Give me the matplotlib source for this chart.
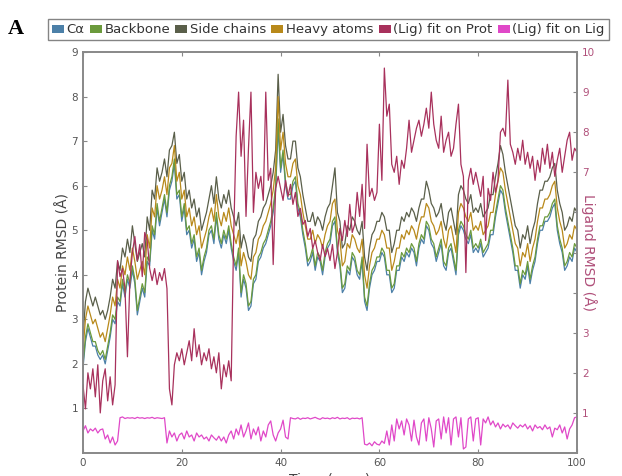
import numpy as np
import matplotlib
matplotlib.use("Agg")
import matplotlib.pyplot as plt
from matplotlib.patches import Patch

# tiempo en ns (paso de 0.5 ns)
time_ns = np.arange(0, 100.5, 0.5)

ca = [1.9, 2.5, 2.8, 2.6, 2.4, 2.4, 2.2, 2.1, 2.2, 2.0,
      2.3, 2.6, 3.0, 2.9, 3.4, 3.3, 3.8, 3.5, 3.9, 3.7,
      4.1, 3.8, 3.1, 3.4, 3.7, 3.5, 4.3, 4.2, 5.0, 4.8,
      5.5, 5.1, 5.4, 5.7, 5.3, 5.9, 6.1, 6.5, 5.7, 5.8,
      5.2, 5.5, 4.9, 5.0, 4.6, 4.8, 4.3, 4.5, 4.0, 4.3,
      4.5, 4.9, 5.0, 4.7, 5.3, 4.8, 4.6, 4.9, 4.7, 5.0,
      4.6, 4.3, 4.1, 4.5, 3.5, 3.9, 3.7, 3.2, 3.3, 3.8,
      3.9, 4.3, 4.4, 4.6, 4.7, 4.9, 5.1, 5.4, 5.9, 7.3,
      6.3, 6.7, 6.0, 5.7, 5.7, 6.0, 6.1, 5.5, 5.3, 4.9,
      4.6, 4.2, 4.3, 4.5, 4.1, 4.4, 4.3, 4.0, 4.4, 4.6,
      4.7, 5.1, 5.2, 4.5, 4.2, 3.6, 3.7, 4.1, 4.0, 4.4,
      4.3, 4.0, 3.9, 4.3, 3.4, 3.2, 3.7, 4.0, 4.1, 4.3,
      4.3, 4.5, 4.4, 4.0, 4.0, 3.6, 3.7, 4.1, 4.1, 4.4,
      4.3, 4.5, 4.4, 4.6, 4.5, 4.2, 4.6, 4.8, 4.7, 5.1,
      5.0, 4.7, 4.6, 4.3, 4.5, 4.7, 4.2, 4.1, 4.5, 4.6,
      4.3, 4.0, 4.9, 5.1, 5.0, 4.8, 4.7, 4.9, 4.5, 4.6,
      4.5, 4.7, 4.4, 4.5, 4.6, 4.9, 4.9, 5.3, 5.6, 5.9,
      5.8, 5.4, 5.1, 4.8, 4.5, 4.1, 4.1, 3.7, 4.0, 3.9,
      4.2, 3.8, 4.1, 4.3, 4.7, 5.0, 5.0, 5.2, 5.2, 5.3,
      5.5, 5.6, 5.0, 4.7, 4.5, 4.1, 4.2, 4.4, 4.3, 4.6,
      4.5]

backbone = [2.0, 2.6, 2.9, 2.7, 2.5, 2.5, 2.3, 2.2, 2.3, 2.1,
            2.4, 2.7, 3.1, 3.0, 3.5, 3.4, 3.9, 3.6, 4.0, 3.8,
            4.2, 3.9, 3.2, 3.5, 3.8, 3.6, 4.4, 4.3, 5.1, 4.9,
            5.6, 5.2, 5.5, 5.8, 5.4, 6.0, 6.2, 6.6, 5.8, 5.9,
            5.3, 5.6, 5.0, 5.1, 4.7, 4.9, 4.4, 4.6, 4.1, 4.4,
            4.6, 5.0, 5.1, 4.8, 5.4, 4.9, 4.7, 5.0, 4.8, 5.1,
            4.7, 4.4, 4.2, 4.6, 3.6, 4.0, 3.8, 3.3, 3.4, 3.9,
            4.0, 4.4, 4.5, 4.7, 4.8, 5.0, 5.2, 5.5, 6.0, 7.5,
            6.4, 6.8, 6.1, 5.8, 5.8, 6.1, 6.2, 5.6, 5.4, 5.0,
            4.7, 4.3, 4.4, 4.6, 4.2, 4.5, 4.4, 4.1, 4.5, 4.7,
            4.8, 5.2, 5.3, 4.6, 4.3, 3.7, 3.8, 4.2, 4.1, 4.5,
            4.4, 4.1, 4.0, 4.4, 3.5, 3.3, 3.8, 4.1, 4.2, 4.4,
            4.4, 4.6, 4.5, 4.1, 4.1, 3.7, 3.8, 4.2, 4.2, 4.5,
            4.4, 4.6, 4.5, 4.7, 4.6, 4.3, 4.7, 4.9, 4.8, 5.2,
            5.1, 4.8, 4.7, 4.4, 4.6, 4.8, 4.3, 4.2, 4.6, 4.7,
            4.4, 4.1, 5.0, 5.2, 5.1, 4.9, 4.8, 5.0, 4.6, 4.7,
            4.6, 4.8, 4.5, 4.6, 4.7, 5.0, 5.0, 5.4, 5.7, 6.0,
            5.9, 5.5, 5.2, 4.9, 4.6, 4.2, 4.2, 3.8, 4.1, 4.0,
            4.3, 3.9, 4.2, 4.4, 4.8, 5.1, 5.1, 5.3, 5.3, 5.4,
            5.6, 5.7, 5.1, 4.8, 4.6, 4.2, 4.3, 4.5, 4.4, 4.7,
            4.6]

side_chains = [2.6, 3.4, 3.7, 3.5, 3.3, 3.5, 3.3, 3.1, 3.2, 3.0,
               3.2, 3.5, 3.9, 3.7, 4.3, 4.1, 4.6, 4.4, 4.8, 4.5,
               5.1, 4.7, 4.3, 4.5, 4.7, 4.4, 5.3, 5.0, 5.9, 5.7,
               6.4, 6.1, 6.3, 6.6, 6.2, 6.8, 6.9, 7.2, 6.5, 6.7,
               6.1, 6.3, 5.7, 5.9, 5.5, 5.7, 5.3, 5.5, 5.0, 5.2,
               5.4, 5.7, 6.0, 5.6, 6.2, 5.7, 5.5, 5.8, 5.6, 5.9,
               5.5, 5.3, 5.1, 5.4, 4.6, 4.9, 4.7, 4.4, 4.3, 4.8,
               4.9, 5.2, 5.3, 5.5, 5.6, 5.8, 6.0, 6.3, 6.8, 8.5,
               7.2, 7.6, 6.9, 6.6, 6.6, 7.0, 7.0, 6.4, 6.2, 5.8,
               5.5, 5.2, 5.2, 5.4, 5.1, 5.3, 5.2, 5.0, 5.3, 5.5,
               5.6, 6.0, 6.4, 5.4, 5.2, 4.6, 4.7, 5.1, 5.0, 5.3,
               5.2, 5.0, 4.9, 5.2, 4.4, 4.1, 4.6, 4.9, 5.0, 5.2,
               5.2, 5.4, 5.3, 5.0, 5.0, 4.5, 4.7, 5.0, 5.0, 5.3,
               5.2, 5.4, 5.3, 5.5, 5.4, 5.2, 5.5, 5.7, 5.7, 6.1,
               5.9, 5.6, 5.5, 5.3, 5.4, 5.6, 5.2, 5.0, 5.4, 5.5,
               5.2, 4.9, 5.8, 6.0, 5.9, 5.7, 5.6, 5.8, 5.4, 5.5,
               5.4, 5.6, 5.3, 5.4, 5.5, 5.8, 5.8, 6.2, 6.5, 6.9,
               6.7, 6.3, 6.0, 5.7, 5.4, 5.1, 5.0, 4.6, 4.9, 4.8,
               5.1, 4.7, 5.0, 5.2, 5.6, 5.9, 5.9, 6.1, 6.1, 6.2,
               6.4, 6.5, 5.9, 5.6, 5.4, 5.0, 5.1, 5.3, 5.2, 5.5,
               5.4]

heavy_atoms = [2.3, 3.0, 3.3, 3.1, 2.9, 3.0, 2.8, 2.6, 2.7, 2.5,
               2.8, 3.1, 3.5, 3.3, 3.9, 3.7, 4.2, 4.0, 4.4, 4.1,
               4.6, 4.3, 3.9, 4.1, 4.3, 4.0, 4.9, 4.6, 5.5, 5.3,
               6.0, 5.7, 5.9, 6.2, 5.8, 6.4, 6.5, 6.9, 6.1, 6.3,
               5.7, 5.9, 5.3, 5.5, 5.1, 5.3, 4.9, 5.1, 4.6, 4.8,
               5.0, 5.3, 5.5, 5.2, 5.8, 5.3, 5.1, 5.4, 5.2, 5.5,
               5.1, 4.9, 4.7, 5.0, 4.2, 4.5, 4.3, 4.0, 3.9, 4.4,
               4.5, 4.8, 4.9, 5.1, 5.2, 5.4, 5.6, 5.9, 6.4, 8.0,
               6.8, 7.2, 6.5, 6.2, 6.2, 6.5, 6.6, 6.0, 5.8, 5.4,
               5.1, 4.8, 4.8, 5.0, 4.7, 4.9, 4.8, 4.6, 4.9, 5.1,
               5.2, 5.6, 5.7, 5.0, 4.8, 4.2, 4.3, 4.7, 4.6, 4.9,
               4.8, 4.6, 4.5, 4.8, 4.0, 3.7, 4.2, 4.5, 4.6, 4.8,
               4.8, 5.0, 4.9, 4.6, 4.6, 4.1, 4.3, 4.6, 4.6, 4.9,
               4.8, 5.0, 4.9, 5.1, 5.0, 4.8, 5.1, 5.3, 5.3, 5.6,
               5.5, 5.2, 5.1, 4.9, 5.0, 5.2, 4.8, 4.6, 5.0, 5.1,
               4.8, 4.5, 5.4, 5.6, 5.5, 5.3, 5.2, 5.4, 5.0, 5.1,
               5.0, 5.2, 4.9, 5.0, 5.1, 5.4, 5.4, 5.8, 6.1, 6.4,
               6.3, 5.9, 5.6, 5.3, 5.0, 4.7, 4.6, 4.2, 4.5, 4.4,
               4.7, 4.3, 4.6, 4.8, 5.2, 5.5, 5.5, 5.7, 5.7, 5.8,
               6.0, 6.1, 5.5, 5.2, 5.0, 4.6, 4.7, 4.9, 4.8, 5.1,
               5.0]

lig_fit_prot = [1.7, 1.1, 2.0, 1.6, 2.1, 1.4, 2.2, 1.0, 1.8, 2.1,
                1.3, 1.9, 1.2, 1.7, 4.8, 4.4, 4.6, 4.1, 2.4, 4.3,
                5.0, 5.4, 4.8, 5.2, 4.4, 5.5, 5.3, 4.6, 4.3, 4.6,
                4.2, 4.5, 4.3, 4.6, 4.1, 1.6, 1.2, 2.2, 2.5, 2.3,
                2.6, 2.2, 2.5, 2.8, 2.3, 3.1, 2.4, 2.7, 2.2, 2.5,
                2.3, 2.6, 2.1, 2.4, 2.0, 2.5, 1.6, 2.2, 1.9, 2.3,
                1.8, 5.4, 7.9, 9.0, 7.4, 8.3, 5.9, 7.6, 9.0, 6.0,
                7.0, 6.6, 6.9, 6.3, 9.0, 6.8, 7.1, 4.7, 6.6, 6.9,
                6.6, 6.3, 6.8, 6.4, 6.7, 6.2, 6.5, 5.9, 6.1, 5.7,
                5.8, 5.4, 5.6, 5.1, 5.3, 5.0, 4.8, 5.2, 4.9, 5.1,
                4.8, 5.2, 4.6, 5.0, 5.6, 5.3, 5.8, 5.4, 6.2, 5.5,
                5.7, 6.5, 5.9, 6.7, 5.6, 7.7, 6.4, 6.6, 6.3, 6.5,
                8.2, 6.8, 9.6, 8.4, 8.7, 7.2, 7.0, 7.4, 6.7, 7.3,
                7.1, 7.6, 8.3, 7.5, 7.8, 8.1, 8.3, 7.9, 8.2, 8.6,
                8.1, 9.0, 8.2, 7.8, 7.6, 8.4, 7.5, 7.8, 8.0, 7.4,
                7.6, 8.2, 8.7, 7.2, 6.9, 4.5, 6.8, 7.1, 6.7, 7.0,
                6.7, 6.4, 6.9, 5.3, 6.6, 6.3, 7.0, 6.5, 6.8, 8.0,
                8.1, 7.9, 9.3, 7.7, 7.5, 7.2, 7.6, 7.3, 7.8, 7.2,
                7.5, 7.1, 7.4, 6.8, 7.3, 7.0, 7.6, 7.2, 7.7, 7.1,
                7.5, 6.9, 7.3, 7.6, 7.0, 7.4, 7.8, 8.0, 7.3, 7.6,
                7.5]

lig_fit_lig = [0.55, 0.68, 0.50, 0.60, 0.55, 0.62, 0.50, 0.58, 0.60, 0.35,
               0.45, 0.25, 0.40, 0.20, 0.30, 0.88, 0.90, 0.86, 0.88, 0.87,
               0.88, 0.86, 0.89, 0.87, 0.88, 0.86, 0.88, 0.87, 0.89, 0.86,
               0.88, 0.87, 0.86, 0.88, 0.25, 0.55, 0.40, 0.50, 0.30, 0.45,
               0.50, 0.35, 0.55, 0.40, 0.45, 0.30, 0.50, 0.40, 0.45, 0.35,
               0.40, 0.30, 0.45, 0.38, 0.32, 0.42, 0.30, 0.40, 0.25, 0.45,
               0.55, 0.35, 0.60, 0.45, 0.70, 0.40, 0.55, 0.75, 0.35, 0.60,
               0.45, 0.65, 0.30, 0.55, 0.40, 0.70, 0.80, 0.45, 0.30, 0.50,
               0.60, 0.82, 0.40, 0.35, 0.88, 0.86, 0.85, 0.88, 0.84, 0.87,
               0.86, 0.88, 0.85, 0.87, 0.89, 0.86, 0.84, 0.88, 0.86, 0.87,
               0.85, 0.88, 0.86, 0.89, 0.85, 0.87, 0.86, 0.88, 0.84, 0.87,
               0.86, 0.87, 0.85, 0.88, 0.22, 0.20, 0.25, 0.18, 0.28, 0.22,
               0.20, 0.30, 0.24, 0.55, 0.20, 0.70, 0.30, 0.85, 0.60, 0.80,
               0.45, 0.85, 0.70, 0.30, 0.82, 0.40, 0.20, 0.75, 0.85, 0.30,
               0.88, 0.60, 0.15, 0.80, 0.85, 0.35, 0.90, 0.50, 0.88, 0.20,
               0.85, 0.90, 0.40, 0.88, 0.10, 0.15, 0.85, 0.90, 0.30, 0.85,
               0.88, 0.20, 0.85, 0.75, 0.90, 0.70, 0.80, 0.65, 0.75, 0.60,
               0.72, 0.65, 0.70, 0.60, 0.75, 0.68, 0.62, 0.70, 0.65, 0.72,
               0.60, 0.68, 0.55, 0.70, 0.62, 0.66, 0.58, 0.70, 0.60, 0.65,
               0.40, 0.62, 0.58, 0.70, 0.50, 0.65, 0.35, 0.60, 0.70, 0.88,
               0.90]

labels = ["C\u03b1", "Backbone", "Side chains", "Heavy atoms",
          "(Lig) fit on Prot", "(Lig) fit on Lig"]
colors = ["#4c80a8", "#6b9a3c", "#5a5f4a", "#b8891a", "#a8315c", "#e048c8"]
right_ticks = list(range(1, 11))
right_ticklabels = ["1", "2", "3", "", "", "", "7", "8", "9", "10"]

fig = plt.figure(figsize=(6.22, 4.76), dpi=100)
ax = fig.add_axes([0.1334, 0.0483, 0.7943, 0.8424])

gris = "#888888"
texto = "#555555"
lig_col = "#b0507a"

ax.plot(time_ns, ca, color=colors[0], lw=0.9)
ax.plot(time_ns, backbone, color=colors[1], lw=0.9)
ax.plot(time_ns, side_chains, color=colors[2], lw=0.9)
ax.plot(time_ns, heavy_atoms, color=colors[3], lw=0.9)
ax.set_xlim(0, 100)
ax.set_ylim(0, 9)
ax.set_xticks([0, 20, 40, 60, 80, 100])
ax.set_yticks(range(1, 10))
ax.tick_params(direction="in", length=3, colors=gris, labelcolor=texto,
               labelsize=7.5, top=True)
ax.set_ylabel("Protein RMSD (Å)", fontsize=10, color="#444444", labelpad=1)
ax.set_xlabel("Time (nsec)", fontsize=10, color="#444444")
ax.xaxis.set_label_coords(0.5, -0.065)
ax.xaxis.label.set_va("center")

ax2 = ax.twinx()
ax2.plot(time_ns, lig_fit_prot, color=colors[4], lw=0.9)
ax2.plot(time_ns, lig_fit_lig, color=colors[5], lw=0.9)
ax2.set_ylim(0, 10)
ax2.set_yticks(right_ticks)
ax2.set_yticklabels(right_ticklabels)
ax2.tick_params(direction="in", length=3, colors=gris, labelcolor=lig_col,
                labelsize=7.5)
ax2.set_ylabel("Ligand RMSD (Å)", fontsize=10, color=lig_col,
               rotation=270, va="center")
ax2.yaxis.set_label_coords(1.025, 0.5)

for a in (ax, ax2):
    for s in a.spines.values():
        s.set_color(gris)
        s.set_linewidth(1.2)

handles = [Patch(facecolor=c, edgecolor="none") for c in colors]
fig.legend(handles, labels, loc="center", bbox_to_anchor=(0.528, 0.9375),
           ncol=6, fontsize=9.5, frameon=True, fancybox=False,
           edgecolor="#666666", handlelength=0.9, handleheight=0.55,
           handletextpad=0.2, columnspacing=0.4, borderpad=0.3,
           labelcolor="#333333")

fig.text(0.013, 0.94, "A", fontsize=16, fontweight="bold",
         family="Liberation Serif", va="center")

plt.savefig("out.png", dpi=100)
